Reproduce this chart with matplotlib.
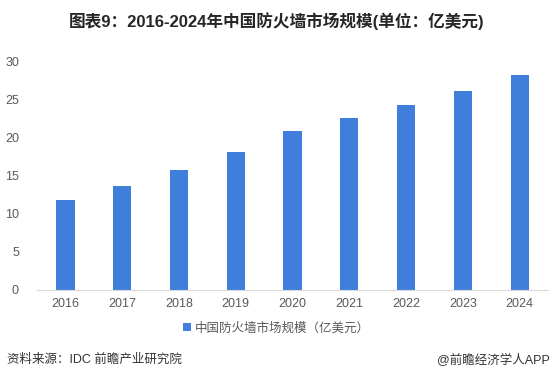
import matplotlib
matplotlib.use("Agg")
import matplotlib.pyplot as plt
import numpy as np

plt.rcParams['font.family'] = ['Liberation Sans', 'Noto Sans CJK SC', 'DejaVu Sans']

years = ['2016', '2017', '2018', '2019', '2020', '2021', '2022', '2023', '2024']
values = [11.8, 13.6, 15.7, 18.1, 20.8, 22.5, 24.2, 26.1, 28.2]
series_name = '中国防火墙市场规模（亿美元）'
title = '图表9：2016-2024年中国防火墙市场规模(单位：亿美元)'
source = '资料来源：IDC 前瞻产业研究院'
credit = '@前瞻经济学人APP'

bar_color = '#3F7FDB'
text_gray = '#595959'

fig = plt.figure(figsize=(5.53, 3.82), dpi=100)
ax = fig.add_axes([0.067, 0.241, 0.924, 0.599])

x = np.arange(len(years))
ax.bar(x, values, width=0.32, color=bar_color, label=series_name)

ax.set_xlim(-0.5, len(years) - 0.5)
ax.set_ylim(0, 30)
ax.set_yticks(np.arange(0, 31, 5))
ax.set_xticks(x)
ax.set_xticklabels(years)
ax.tick_params(axis='both', length=0, labelsize=9, labelcolor=text_gray)
ax.tick_params(axis='x', pad=6)
ax.tick_params(axis='y', pad=13)
for s in ['top', 'right', 'left']:
    ax.spines[s].set_visible(False)
ax.spines['bottom'].set_color('#D9D9D9')

fig.text(0.5, 0.945, title, ha='center', va='center', fontsize=12,
         fontweight='bold', color='#262626')

fig.legend(loc='center', bbox_to_anchor=(0.5, 0.141), frameon=False,
           fontsize=9, handlelength=0.6, handleheight=0.6, handletextpad=0.3,
           labelcolor=text_gray)

fig.text(0.012, 0.058, source, ha='left', va='center', fontsize=9, color='#333333')
fig.text(0.995, 0.058, credit, ha='right', va='center', fontsize=9, color='#333333')

fig.savefig('out.png', dpi=100)
